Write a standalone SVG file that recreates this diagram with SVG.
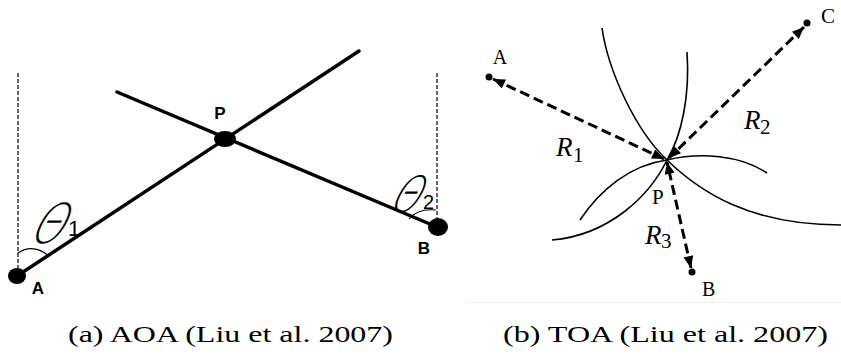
<svg xmlns="http://www.w3.org/2000/svg" width="841" height="354" viewBox="0 0 841 354">
<style>
  .thick{stroke:#000;stroke-width:3.5;fill:none;stroke-linecap:round}
  .vdash{stroke:#000;stroke-width:1.2;fill:none;stroke-dasharray:4 2}
  .arc{stroke:#000;stroke-width:1.1;fill:none}
  .sans{font-family:"Liberation Sans",Arial,sans-serif;font-weight:bold;fill:#000}
  .theta{font-family:"DejaVu Sans",sans-serif;font-weight:200;fill:#000}
  .sub{font-family:"Liberation Sans",Arial,sans-serif;fill:#000}
  .serif{font-family:"Liberation Serif","Times New Roman",serif;fill:#000}
  .ital{font-family:"Liberation Serif","Times New Roman",serif;font-style:italic;fill:#000}
  .dash{stroke:#000;stroke-width:3;fill:none;stroke-dasharray:10 5;marker-start:url(#ah);marker-end:url(#ah)}
  .curve{stroke:#000;stroke-width:1.6;fill:none}
  .cap{font-family:"Liberation Serif","Times New Roman",serif;font-size:23px;fill:#000}
</style>
<defs>
  <marker id="ah" viewBox="0 0 12 10" refX="12" refY="5" markerUnits="userSpaceOnUse" markerWidth="13" markerHeight="10" orient="auto-start-reverse">
    <path d="M0,0 L12,5 L0,10 Z" fill="#000"/>
  </marker>
</defs>
<rect width="841" height="354" fill="#fff"/>

<!-- Panel (a) AOA -->
<g id="aoa-connectors">
  <line class="vdash" x1="18" y1="73" x2="18" y2="270"/>
  <line class="vdash" x1="437" y1="73" x2="437" y2="220"/>
  <line class="thick" x1="17" y1="276" x2="359" y2="51"/>
  <line class="thick" x1="117" y1="92" x2="437" y2="227"/>
  <path class="arc" d="M18,253 Q33,243 49,256"/>
  <path class="arc" d="M409,219 Q418,208 436,210"/>
</g>
<g id="aoa-A">
  <ellipse cx="17" cy="276" rx="9" ry="8" fill="#000"/>
  <text class="sans" x="38" y="294" font-size="17" text-anchor="middle">A</text>
</g>
<g id="aoa-P">
  <ellipse cx="225" cy="139" rx="11" ry="8" fill="#000"/>
  <text class="sans" x="220" y="119" font-size="17" text-anchor="middle">P</text>
</g>
<g id="aoa-B">
  <ellipse cx="438" cy="227" rx="10" ry="9" fill="#000"/>
  <text class="sans" x="424" y="254" font-size="17" text-anchor="middle">B</text>
</g>
<g id="theta1">
  <text class="theta" font-size="55" text-anchor="middle" transform="translate(43,243) skewX(-28) scale(0.75,1)">Θ</text>
  <text class="sub" x="68" y="236" font-size="22">1</text>
</g>
<g id="theta2">
  <text class="theta" font-size="50" text-anchor="middle" transform="translate(401,212) skewX(-28) scale(0.72,1)">Θ</text>
  <text class="sub" x="423" y="209" font-size="20">2</text>
</g>

<!-- Panel (b) TOA -->
<g id="toa-curves">
  <path class="curve" d="M602,28 C608,70 635,130 667,160 C700,192 750,225 841,225"/>
  <path class="curve" d="M687,52 C690,95 682,135 667,160 C650,195 610,235 552,240"/>
  <path class="curve" d="M580,220 C600,190 630,165 667,160 C700,152 740,155 767,173"/>
</g>
<g id="toa-connectors">
  <line class="dash" x1="493" y1="79" x2="664" y2="159"/>
  <line class="dash" x1="804" y1="27" x2="669" y2="158"/>
  <line class="dash" x1="691" y1="268" x2="667" y2="162"/>
</g>
<g id="toa-A">
  <circle cx="489" cy="77" r="3.5" fill="#000"/>
  <text class="serif" x="500" y="64" font-size="20" text-anchor="middle">A</text>
</g>
<g id="toa-C">
  <circle cx="807" cy="23" r="3.5" fill="#000"/>
  <text class="serif" x="821" y="23" font-size="21">C</text>
</g>
<g id="toa-B">
  <circle cx="692" cy="272" r="3.5" fill="#000"/>
  <text class="serif" x="702" y="296" font-size="20">B</text>
</g>
<g id="toa-P">
  <text class="serif" x="652" y="204" font-size="21">P</text>
</g>
<g id="labels-R">
  <text class="ital" x="556" y="156" font-size="27">R</text><text class="serif" x="573" y="162" font-size="21">1</text>
  <text class="ital" x="744" y="129" font-size="27">R</text><text class="serif" x="760" y="134" font-size="21">2</text>
  <text class="ital" x="645" y="244" font-size="27">R</text><text class="serif" x="661" y="248" font-size="21">3</text>
</g>
<line x1="467" y1="302.5" x2="841" y2="302.5" stroke="#ececec" stroke-width="1"/>

<!-- Captions -->
<g id="captions">
  <text class="cap" x="68" y="342" textLength="325" lengthAdjust="spacingAndGlyphs">(a) AOA (Liu et al. 2007)</text>
  <text class="cap" x="503" y="342" textLength="325" lengthAdjust="spacingAndGlyphs">(b) TOA (Liu et al. 2007)</text>
</g>
</svg>
